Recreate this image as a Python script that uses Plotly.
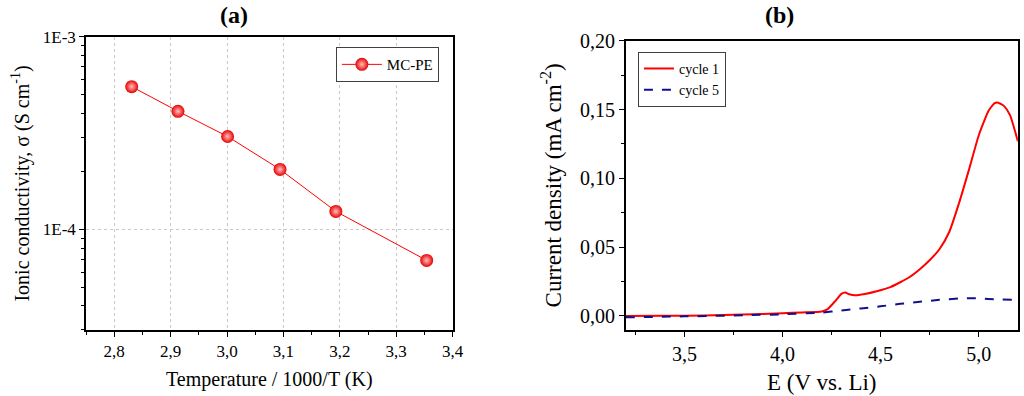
import plotly.graph_objects as go
import math

# ---- panel (a) data ----
inv_T = [2.831, 2.913, 3.001, 3.094, 3.193, 3.354]
sigma = [5.52e-4, 4.11e-4, 3.04e-4, 2.05e-4, 1.24e-4, 6.9e-5]

# ---- panel (b) data ----
E1 = [3.20, 3.40, 3.60, 3.80, 4.00, 4.10, 4.20, 4.23, 4.27, 4.30, 4.32, 4.34, 4.37,
      4.42, 4.48, 4.55, 4.60, 4.65, 4.70, 4.75, 4.80, 4.85, 4.90, 4.95, 5.00, 5.05,
      5.08, 5.10, 5.13, 5.16, 5.20]
j1 = [0.0000, 0.0001, 0.0004, 0.0010, 0.0020, 0.0026, 0.0033, 0.0050, 0.0110, 0.0160,
      0.0170, 0.0158, 0.0150, 0.0160, 0.0180, 0.0210, 0.0245, 0.0285, 0.0340, 0.0405,
      0.0485, 0.0610, 0.0820, 0.1060, 0.1310, 0.1490, 0.1545, 0.1550, 0.1525, 0.1460,
      0.1270]
E5 = [3.20, 3.50, 3.80, 4.00, 4.20, 4.30, 4.40, 4.50, 4.60, 4.70, 4.80, 4.90, 4.97,
      5.05, 5.12, 5.20]
j5 = [-0.0010, -0.0003, 0.0005, 0.0012, 0.0025, 0.0040, 0.0055, 0.0070, 0.0088,
      0.0103, 0.0117, 0.0127, 0.0129, 0.0123, 0.0119, 0.0117]

FONT = "Liberation Serif, Times New Roman, serif"

fig = go.Figure()
fig.add_trace(go.Scatter(
    x=inv_T, y=sigma, mode="lines+markers", name="MC-PE",
    line=dict(color="red", width=1),
    marker=dict(size=13, color="#e80000",
                gradient=dict(type="radial", color="#ffc0c0"),
                line=dict(width=0)),
    xaxis="x", yaxis="y", legend="legend"))
fig.add_trace(go.Scatter(
    x=E1, y=j1, mode="lines", name="cycle 1",
    line=dict(color="red", width=2, shape="spline", smoothing=0.5),
    xaxis="x2", yaxis="y2", legend="legend2"))
fig.add_trace(go.Scatter(
    x=E5, y=j5, mode="lines", name="cycle 5",
    line=dict(color="#10108c", width=2, dash="dash", shape="spline", smoothing=0.5),
    xaxis="x2", yaxis="y2", legend="legend2"))


def ax(size, **kw):
    d = dict(showline=True, linecolor="black", linewidth=1.5, mirror=True,
             ticks="outside", tickcolor="black", ticklen=5, tickwidth=1,
             zeroline=False, automargin=False,
             tickfont=dict(family=FONT, size=size, color="black"))
    d.update(kw)
    return d


minor_y = [m * 10 ** e for e in (-5, -4) for m in range(2, 10)]
minor_y = [v for v in minor_y if v >= 3e-5]

fig.update_layout(
    width=1024, height=396,
    margin=dict(l=0, r=0, t=0, b=0, autoexpand=False),
    paper_bgcolor="white", plot_bgcolor="white",
    separators=", ",
    font=dict(family=FONT, color="black"),
    xaxis=ax(17, domain=[0.084, 0.442], anchor="y", range=[2.75, 3.4], dtick=0.1, tick0=2.8,
             tickformat=".1f", showgrid=True, gridcolor="#c8c8c8", griddash="dot", gridwidth=1,
             minor=dict(dtick=0.1, tick0=2.75, ticks="outside", ticklen=3, tickcolor="black", showgrid=False),
             title=dict(text="Temperature / 1000/T (K)", font=dict(size=20, family=FONT), standoff=12)),
    yaxis=ax(17, domain=[0.1667, 0.9066], anchor="x", type="log",
             range=[math.log10(3e-5), -3], tickmode="array",
             tickvals=[1e-4, 1e-3], ticktext=["1E-4", "1E-3"],
             showgrid=True, gridcolor="#c8c8c8", griddash="dot", gridwidth=1,
             minor=dict(tickmode="array", tickvals=minor_y, ticks="outside", ticklen=3,
                        tickcolor="black", showgrid=False),
             title=dict(text="Ionic conductivity, σ (S cm<sup>-1</sup>)", font=dict(size=20, family=FONT), standoff=8)),
    xaxis2=ax(20, domain=[0.611, 0.994], anchor="y2", range=[3.2, 5.2], dtick=0.5, tick0=3.5,
              tickformat=".1f", showgrid=False,
              minor=dict(dtick=0.25, tick0=3.25, ticks="outside", ticklen=3, tickcolor="black"),
              title=dict(text="E (V vs. Li)", font=dict(size=23, family=FONT), standoff=10)),
    yaxis2=ax(20, domain=[0.1667, 0.897], anchor="x2", range=[-0.0102, 0.2], dtick=0.05, tick0=0,
              tickformat=".2f", showgrid=False,
              minor=dict(dtick=0.025, tick0=0, ticks="outside", ticklen=3, tickcolor="black"),
              title=dict(text="Current density (mA cm<sup>-2</sup>)", font=dict(size=23, family=FONT), standoff=12)),
    legend=dict(x=0.328, y=0.881, xanchor="left", yanchor="top",
                bordercolor="#404040", borderwidth=1, bgcolor="white",
                font=dict(family=FONT, size=15, color="black"), itemwidth=40,
                tracegroupgap=0),
    legend2=dict(x=0.623, y=0.869, xanchor="left", yanchor="top",
                 bordercolor="#404040", borderwidth=1, bgcolor="white",
                 font=dict(family=FONT, size=14, color="black"), itemwidth=30,
                 tracegroupgap=0),
    annotations=[
        dict(text="<b>(a)</b>", x=234 / 1024, y=1 - 15 / 396, xref="paper", yref="paper",
             xanchor="center", yanchor="middle",
             showarrow=False, font=dict(family=FONT, size=24, color="black")),
        dict(text="<b>(b)</b>", x=779 / 1024, y=1 - 15 / 396, xref="paper", yref="paper",
             xanchor="center", yanchor="middle",
             showarrow=False, font=dict(family=FONT, size=24, color="black")),
    ],
    showlegend=True,
)

fig.write_html("out.html", config={"displayModeBar": False},
               post_script="document.body.style.margin='0';document.body.style.overflow='hidden';")
